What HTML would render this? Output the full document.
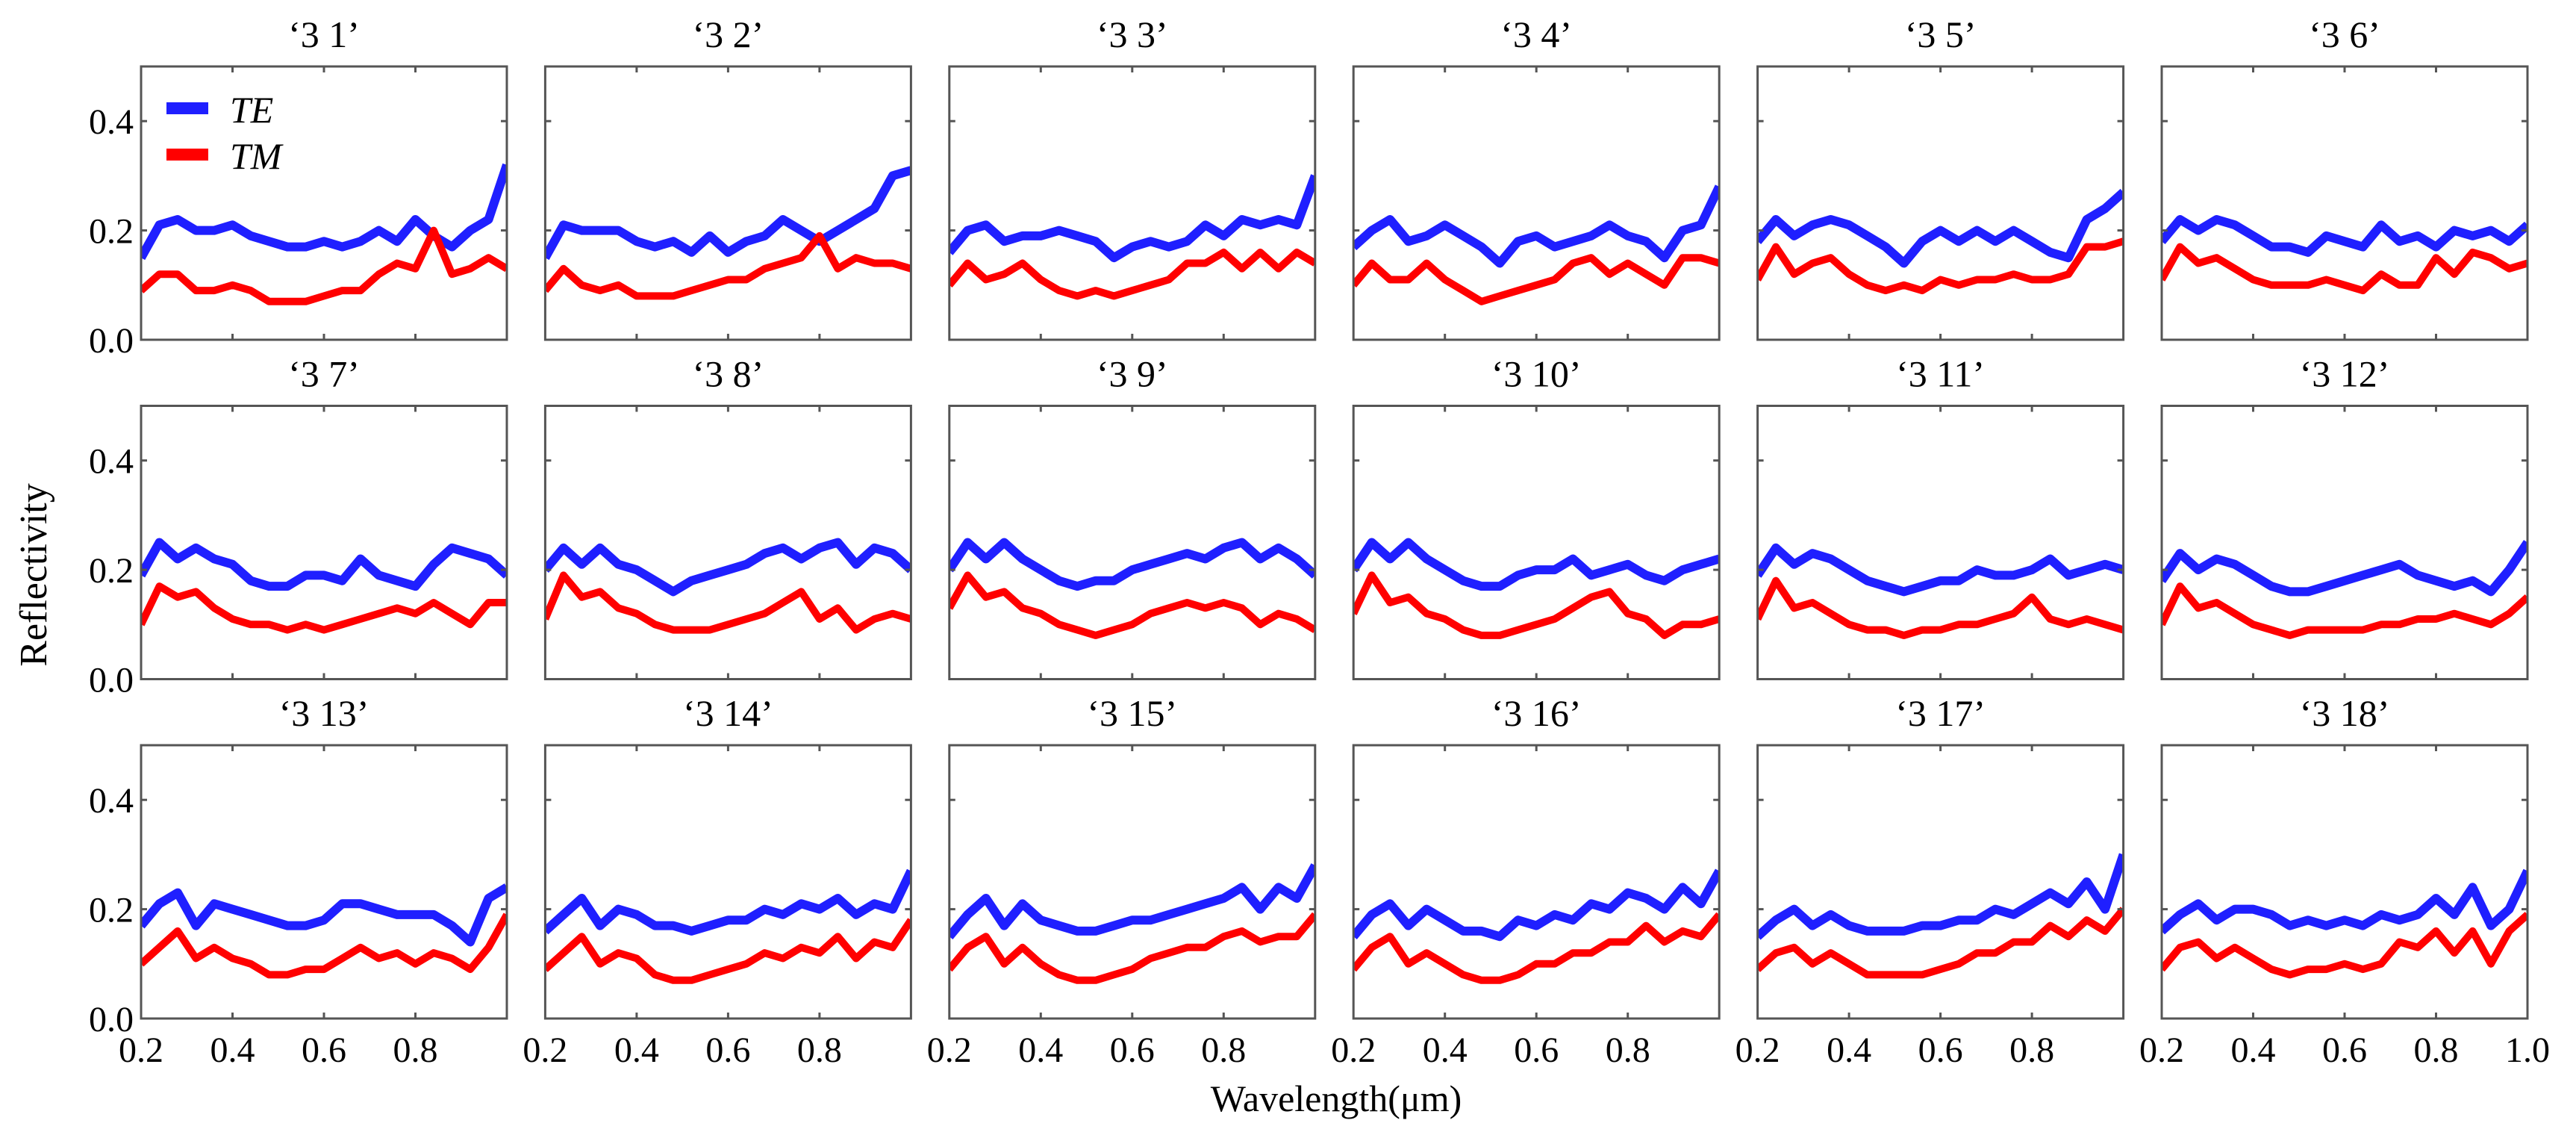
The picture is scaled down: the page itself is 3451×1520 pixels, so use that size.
<!DOCTYPE html>
<html><head><meta charset="utf-8"><style>
html,body{margin:0;padding:0;background:#fff;}
svg{display:block;font-family:"Liberation Serif",serif;}
</style></head><body>
<svg id="chart" width="3451" height="1520" viewBox="0 0 3451 1520" xmlns="http://www.w3.org/2000/svg">
<text x="0" y="0" transform="translate(62,770) rotate(-90)" text-anchor="middle" font-size="52">Reflectivity</text>
<text x="1790" y="1488" text-anchor="middle" font-size="50">Wavelength(μm)</text>
</svg>
<script>
const panelTitles = ["‘3 1’","‘3 2’","‘3 3’","‘3 4’","‘3 5’","‘3 6’","‘3 7’","‘3 8’","‘3 9’","‘3 10’","‘3 11’","‘3 12’","‘3 13’","‘3 14’","‘3 15’","‘3 16’","‘3 17’","‘3 18’"];
const wavelengths = [0.20,0.24,0.28,0.32,0.36,0.40,0.44,0.48,0.52,0.56,0.60,0.64,0.68,0.72,0.76,0.80,0.84,0.88,0.92,0.96,1.00];
const xTicks = [0.2,0.4,0.6,0.8,1.0];
const yTicks = [0.0,0.2,0.4];
const teValues = [
[0.15,0.21,0.22,0.20,0.20,0.21,0.19,0.18,0.17,0.17,0.18,0.17,0.18,0.20,0.18,0.22,0.19,0.17,0.20,0.22,0.32],
[0.15,0.21,0.20,0.20,0.20,0.18,0.17,0.18,0.16,0.19,0.16,0.18,0.19,0.22,0.20,0.18,0.20,0.22,0.24,0.30,0.31],
[0.16,0.20,0.21,0.18,0.19,0.19,0.20,0.19,0.18,0.15,0.17,0.18,0.17,0.18,0.21,0.19,0.22,0.21,0.22,0.21,0.30],
[0.17,0.20,0.22,0.18,0.19,0.21,0.19,0.17,0.14,0.18,0.19,0.17,0.18,0.19,0.21,0.19,0.18,0.15,0.20,0.21,0.28],
[0.18,0.22,0.19,0.21,0.22,0.21,0.19,0.17,0.14,0.18,0.20,0.18,0.20,0.18,0.20,0.18,0.16,0.15,0.22,0.24,0.27],
[0.18,0.22,0.20,0.22,0.21,0.19,0.17,0.17,0.16,0.19,0.18,0.17,0.21,0.18,0.19,0.17,0.20,0.19,0.20,0.18,0.21],
[0.19,0.25,0.22,0.24,0.22,0.21,0.18,0.17,0.17,0.19,0.19,0.18,0.22,0.19,0.18,0.17,0.21,0.24,0.23,0.22,0.19],
[0.20,0.24,0.21,0.24,0.21,0.20,0.18,0.16,0.18,0.19,0.20,0.21,0.23,0.24,0.22,0.24,0.25,0.21,0.24,0.23,0.20],
[0.20,0.25,0.22,0.25,0.22,0.20,0.18,0.17,0.18,0.18,0.20,0.21,0.22,0.23,0.22,0.24,0.25,0.22,0.24,0.22,0.19],
[0.20,0.25,0.22,0.25,0.22,0.20,0.18,0.17,0.17,0.19,0.20,0.20,0.22,0.19,0.20,0.21,0.19,0.18,0.20,0.21,0.22],
[0.19,0.24,0.21,0.23,0.22,0.20,0.18,0.17,0.16,0.17,0.18,0.18,0.20,0.19,0.19,0.20,0.22,0.19,0.20,0.21,0.20],
[0.18,0.23,0.20,0.22,0.21,0.19,0.17,0.16,0.16,0.17,0.18,0.19,0.20,0.21,0.19,0.18,0.17,0.18,0.16,0.20,0.25],
[0.17,0.21,0.23,0.17,0.21,0.20,0.19,0.18,0.17,0.17,0.18,0.21,0.21,0.20,0.19,0.19,0.19,0.17,0.14,0.22,0.24],
[0.16,0.19,0.22,0.17,0.20,0.19,0.17,0.17,0.16,0.17,0.18,0.18,0.20,0.19,0.21,0.20,0.22,0.19,0.21,0.20,0.27],
[0.15,0.19,0.22,0.17,0.21,0.18,0.17,0.16,0.16,0.17,0.18,0.18,0.19,0.20,0.21,0.22,0.24,0.20,0.24,0.22,0.28],
[0.15,0.19,0.21,0.17,0.20,0.18,0.16,0.16,0.15,0.18,0.17,0.19,0.18,0.21,0.20,0.23,0.22,0.20,0.24,0.21,0.27],
[0.15,0.18,0.20,0.17,0.19,0.17,0.16,0.16,0.16,0.17,0.17,0.18,0.18,0.20,0.19,0.21,0.23,0.21,0.25,0.20,0.30],
[0.16,0.19,0.21,0.18,0.20,0.20,0.19,0.17,0.18,0.17,0.18,0.17,0.19,0.18,0.19,0.22,0.19,0.24,0.17,0.20,0.27]
];
const tmValues = [
[0.09,0.12,0.12,0.09,0.09,0.10,0.09,0.07,0.07,0.07,0.08,0.09,0.09,0.12,0.14,0.13,0.20,0.12,0.13,0.15,0.13],
[0.09,0.13,0.10,0.09,0.10,0.08,0.08,0.08,0.09,0.10,0.11,0.11,0.13,0.14,0.15,0.19,0.13,0.15,0.14,0.14,0.13],
[0.10,0.14,0.11,0.12,0.14,0.11,0.09,0.08,0.09,0.08,0.09,0.10,0.11,0.14,0.14,0.16,0.13,0.16,0.13,0.16,0.14],
[0.10,0.14,0.11,0.11,0.14,0.11,0.09,0.07,0.08,0.09,0.10,0.11,0.14,0.15,0.12,0.14,0.12,0.10,0.15,0.15,0.14],
[0.11,0.17,0.12,0.14,0.15,0.12,0.10,0.09,0.10,0.09,0.11,0.10,0.11,0.11,0.12,0.11,0.11,0.12,0.17,0.17,0.18],
[0.11,0.17,0.14,0.15,0.13,0.11,0.10,0.10,0.10,0.11,0.10,0.09,0.12,0.10,0.10,0.15,0.12,0.16,0.15,0.13,0.14],
[0.10,0.17,0.15,0.16,0.13,0.11,0.10,0.10,0.09,0.10,0.09,0.10,0.11,0.12,0.13,0.12,0.14,0.12,0.10,0.14,0.14],
[0.11,0.19,0.15,0.16,0.13,0.12,0.10,0.09,0.09,0.09,0.10,0.11,0.12,0.14,0.16,0.11,0.13,0.09,0.11,0.12,0.11],
[0.13,0.19,0.15,0.16,0.13,0.12,0.10,0.09,0.08,0.09,0.10,0.12,0.13,0.14,0.13,0.14,0.13,0.10,0.12,0.11,0.09],
[0.12,0.19,0.14,0.15,0.12,0.11,0.09,0.08,0.08,0.09,0.10,0.11,0.13,0.15,0.16,0.12,0.11,0.08,0.10,0.10,0.11],
[0.11,0.18,0.13,0.14,0.12,0.10,0.09,0.09,0.08,0.09,0.09,0.10,0.10,0.11,0.12,0.15,0.11,0.10,0.11,0.10,0.09],
[0.10,0.17,0.13,0.14,0.12,0.10,0.09,0.08,0.09,0.09,0.09,0.09,0.10,0.10,0.11,0.11,0.12,0.11,0.10,0.12,0.15],
[0.10,0.13,0.16,0.11,0.13,0.11,0.10,0.08,0.08,0.09,0.09,0.11,0.13,0.11,0.12,0.10,0.12,0.11,0.09,0.13,0.19],
[0.09,0.12,0.15,0.10,0.12,0.11,0.08,0.07,0.07,0.08,0.09,0.10,0.12,0.11,0.13,0.12,0.15,0.11,0.14,0.13,0.18],
[0.09,0.13,0.15,0.10,0.13,0.10,0.08,0.07,0.07,0.08,0.09,0.11,0.12,0.13,0.13,0.15,0.16,0.14,0.15,0.15,0.19],
[0.09,0.13,0.15,0.10,0.12,0.10,0.08,0.07,0.07,0.08,0.10,0.10,0.12,0.12,0.14,0.14,0.17,0.14,0.16,0.15,0.19],
[0.09,0.12,0.13,0.10,0.12,0.10,0.08,0.08,0.08,0.08,0.09,0.10,0.12,0.12,0.14,0.14,0.17,0.15,0.18,0.16,0.20],
[0.09,0.13,0.14,0.11,0.13,0.11,0.09,0.08,0.09,0.09,0.10,0.09,0.10,0.14,0.13,0.16,0.12,0.16,0.10,0.16,0.19]
];

const svg = document.getElementById('chart');
const NS = 'http://www.w3.org/2000/svg';
const PW = 490, PH = 366, X0 = 189, Y0 = 89, DX = 541.4, DY = 454.5;
function mk(tag, attrs){const e=document.createElementNS(NS,tag);for(const k in attrs)e.setAttribute(k,attrs[k]);return e;}

for (let i = 0; i < 18; i++) {
  const r = Math.floor(i/6), c = i%6;
  const left = X0 + c*DX, top = Y0 + r*DY;
  const xs = v => left + (v-0.2)/0.8*PW;
  const ys = v => top + PH - v/0.5*PH;
  const g = mk('g', {});
  
  
  svg.appendChild(g);

  const t = mk('text', {x: left+PW/2, y: top-26, 'text-anchor':'middle', 'font-size':50});
  
  
  t.textContent = panelTitles[i];
  g.appendChild(t);

  const clipId = 'clip'+i;
  const cp = mk('clipPath', {id: clipId});
  cp.appendChild(mk('rect', {x:left, y:top, width:PW, height:PH}));
  g.appendChild(cp);

  const pts = arr => arr.map((v,k)=>xs(wavelengths[k]).toFixed(1)+','+ys(v).toFixed(1)).join(' ');
  const te = mk('polyline', {points: pts(teValues[i]), fill:'none', stroke:'#1f1fff', 'stroke-width':12, 'stroke-linejoin':'round', 'clip-path':'url(#'+clipId+')'});
  
  
  g.appendChild(te);
  const tm = mk('polyline', {points: pts(tmValues[i]), fill:'none', stroke:'#ff0000', 'stroke-width':10, 'stroke-linejoin':'round', 'clip-path':'url(#'+clipId+')'});
  
  
  g.appendChild(tm);

  const frame = mk('rect', {x:left, y:top, width:PW, height:PH, fill:'none', stroke:'#555', 'stroke-width':3});
  
  
  g.appendChild(frame);

  xTicks.forEach(v => {
    if (v <= 0.2 || v >= 1.0) return;
    const x = xs(v);
    g.appendChild(mk('line',{x1:x,y1:top,x2:x,y2:top+8,stroke:'#555','stroke-width':3}));
    g.appendChild(mk('line',{x1:x,y1:top+PH,x2:x,y2:top+PH-8,stroke:'#555','stroke-width':3}));
  });
  yTicks.forEach(v => {
    if (v <= 0) return;
    const y = ys(v);
    g.appendChild(mk('line',{x1:left,y1:y,x2:left+8,y2:y,stroke:'#555','stroke-width':3}));
    g.appendChild(mk('line',{x1:left+PW,y1:y,x2:left+PW-8,y2:y,stroke:'#555','stroke-width':3}));
  });

  if (c === 0) {
    yTicks.forEach(v => {
      const lab = mk('text', {x:left-10, y:ys(v)+17, 'text-anchor':'end', 'font-size':48});
      
      
      lab.textContent = v.toFixed(1);
      g.appendChild(lab);
    });
  }
  if (r === 2) {
    xTicks.forEach(v => {
      if (v >= 1.0 && c !== 5) return;
      const lab = mk('text', {x:xs(v), y:top+PH+58, 'text-anchor':'middle', 'font-size':48});
      
      
      lab.textContent = v.toFixed(1);
      g.appendChild(lab);
    });
  }
}

const leg = mk('g', {});


svg.appendChild(leg);
const l1 = mk('line',{x1:223,y1:145,x2:279,y2:145,stroke:'#1f1fff','stroke-width':16});


leg.appendChild(l1);
const t1 = mk('text',{x:308,y:164,'font-size':50,'font-style':'italic'});


t1.textContent = 'TE';
leg.appendChild(t1);
const l2 = mk('line',{x1:223,y1:207,x2:279,y2:207,stroke:'#ff0000','stroke-width':16});


leg.appendChild(l2);
const t2 = mk('text',{x:308,y:226,'font-size':50,'font-style':'italic'});


t2.textContent = 'TM';
leg.appendChild(t2);
</script>
</body></html>
